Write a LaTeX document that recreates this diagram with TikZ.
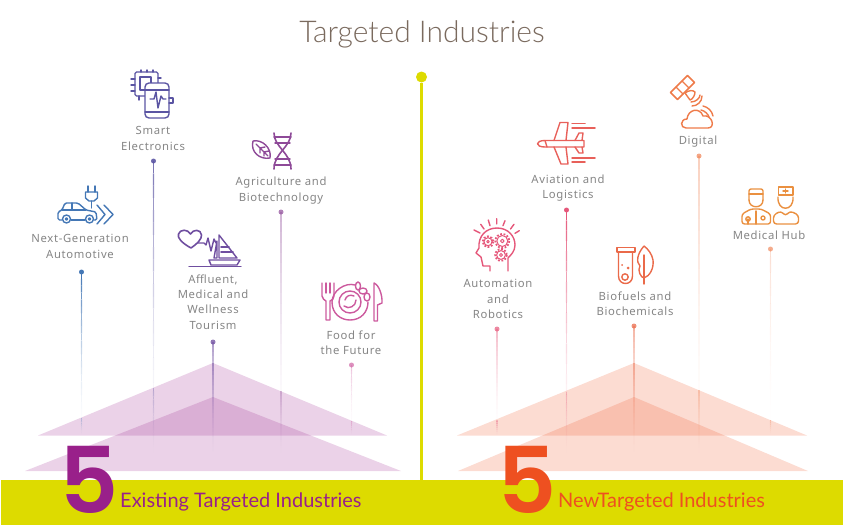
\documentclass[tikz,border=0pt]{standalone}
\usepackage{fontspec}
\setmainfont{Noto Sans}[LetterSpace=6]
\newfontfamily\headfont{Lato}
\newfontfamily\lightfont{Lato Light}
\newfontfamily\digitfont{Poppins SemiBold}
\usetikzlibrary{calc}
\definecolor{barcol}{HTML}{DDDB00}
\definecolor{purplecol}{HTML}{99208A}
\definecolor{orangecol}{HTML}{EE5020}
\definecolor{labelcol}{HTML}{858585}
\definecolor{titlecol}{HTML}{7A6A5E}
\definecolor{carcol}{HTML}{4477B5}
\definecolor{smartcol}{HTML}{5B55A3}
\definecolor{agricol}{HTML}{8E4A98}
\definecolor{tourcol}{HTML}{6F4EA0}
\definecolor{foodcol}{HTML}{CC5A9E}
\definecolor{autocol}{HTML}{E5577A}
\definecolor{avicol}{HTML}{E8605A}
\definecolor{biocol}{HTML}{EA6A4A}
\definecolor{digicol}{HTML}{EE7B4A}
\definecolor{medcol}{HTML}{EA9040}
\tikzset{
  label/.style={text=labelcol,font=\fontsize{11.3}{15.4}\selectfont,align=center,inner sep=0pt},
  tip/.style={circle,inner sep=0pt,minimum size=5pt},
  iconline/.style={line width=1.4pt,line join=round,line cap=round},
  gear/.style={line width=1.8pt,line cap=butt,dash pattern=on 1.8pt off 1.6pt},
}
\newcommand{\stemline}[4]{%
  \foreach \s in {0,...,23}
    \draw[#3,line width=1.1pt,opacity={#4*(1-\s/24)*(1-\s/24)}] ($(#1)!{\s/24}!(#2)$) -- ($(#1)!{(\s+1)/24}!(#2)$);
}
\begin{document}
\begin{tikzpicture}[x=1pt,y=-1pt]
  \useasboundingbox (0,0) rectangle (843,525);

  \node[text=titlecol,font=\lightfont\fontsize{30}{32}\selectfont] (title) at (422,34) {Targeted Industries};

  \fill[purplecol,opacity=.2] (213,363) -- (387,435.5) -- (38,435.5) -- cycle;
  \fill[purplecol,opacity=.2] (213,397) -- (401,471) -- (25,471) -- cycle;
  \fill[orangecol,opacity=.2] (634,363) -- (807,435.5) -- (457,435.5) -- cycle;
  \fill[orangecol,opacity=.2] (634,397) -- (808,471) -- (458,471) -- cycle;

  \foreach \nm/\x/\top/\edge/\bot/\col/\op in {
    car/81.5/272/418/436/carcol/1,
    smart/153.5/161/388/456/smartcol/.8,
    agri/281/212/391/456/agricol/.4,
    tour/213/342/363/456/tourcol/.55,
    food/351.5/365/421/436/foodcol/.35,
    auto/497/329/420/436/autocol/.4,
    avi/566.5/210/392/456/autocol/1,
    bio/634/326/363/456/biocol/.5,
    digi/699/156/390/456/digicol/.35,
    med/770.5/249/420/436/digicol/.25}{
    \node[tip,fill=\col,opacity=\op*.5+.5] (\nm top) at (\x,\top) {};
    \coordinate (\nm edge) at (\x,\edge);
    \coordinate (\nm end) at (\x,\bot);
    \stemline{\nm top}{\nm end}{\col}{\op}
    \stemline{\nm edge}{\nm end}{\col}{.3}
  }

  \fill[barcol] (1,480) rectangle (843,525);
  \node[circle,fill=barcol,inner sep=0pt,minimum size=11pt] (axis) at (421.5,77) {};
  \coordinate (axisend) at (421.5,480);
  \draw[barcol,line width=3pt] (axis) -- (axisend);

  \node[text=purplecol,font=\digitfont\fontsize{92}{92}\selectfont,inner sep=0pt] (fiveA) at (89,479.5) {5};
  \node[text=orangecol,font=\digitfont\fontsize{92}{92}\selectfont,inner sep=0pt] (fiveB) at (527.5,479.5) {5};
  \node[text=purplecol,font=\headfont\fontsize{20}{22}\selectfont,anchor=base west,inner sep=0pt] (existing) at (120,507) {Existing Targeted Industries};
  \node[text=orangecol,font=\headfont\fontsize{20}{22}\selectfont,anchor=base west,inner sep=0pt] (newind) at (558,507) {NewTargeted Industries};

  \node[label] (smart) at (153,138.5) {Smart\\Electronics};
  \node[label] (car) at (80,246.5) {Next-Generation\\Automotive};
  \node[label] (agri) at (281,190.5) {Agriculture and\\Biotechnology};
  \node[label] (tour) at (213,302) {Affluent,\\Medical and\\Wellness\\Tourism};
  \node[label] (food) at (351,342.5) {Food for\\the Future};
  \node[label] (auto) at (498,299) {Automation\\and\\Robotics};
  \node[label] (avi) at (568,188) {Aviation and\\Logistics};
  \node[label] (bio) at (635,304) {Biofuels and\\Biochemicals};
  \node[label] (digi) at (698,141.5) {Digital};
  \node[label] (med) at (769,235.5) {Medical Hub};

  % car and plug
  \begin{scope}[carcol,iconline]
    \draw (88,186) -- (88,192) (95,186) -- (95,192);
    \draw (85.5,192) -- (97.5,192) -- (97.5,198) -- (94,201) -- (89,201) -- (85.5,198) -- cycle;
    \draw (91.5,201) -- (91.5,208);
    \draw[rounded corners=1.5pt] (62,220) -- (58,220) -- (58,212) -- (62,210) -- (65,203) -- (78,203) -- (86,210) -- (96,212) -- (97,220) -- (94,220);
    \draw (71,220) -- (85,220) (62,210) -- (86,210) (72,203) -- (72,210);
    \draw (66.5,219) circle[radius=4] (66.5,219) circle[radius=1.2];
    \draw (89.5,219) circle[radius=4] (89.5,219) circle[radius=1.2];
    \draw[line width=1.4pt] (97,205) -- (105,214.5) -- (97,224) (104,205) -- (113,214.5) -- (104,224);
  \end{scope}

  % chip and watch
  \begin{scope}[smartcol,iconline]
    \draw[rounded corners=1.5pt] (135,72) rectangle (158,96);
    \draw (140,77) rectangle (151,90);
    \foreach \p in {79,85,91} \draw (131,\p) -- (135,\p);
    \foreach \p in {141,147,153} \draw (\p,70) -- (\p,72);
    \draw (158,78) -- (161,78) (139,96) -- (139,100);
    \draw[fill=white,rounded corners=4pt] (145,83) rectangle (169,118);
    \draw (145,90) -- (169,90) (145,112) -- (169,112);
    \draw (169,98) -- (173,98) -- (173,103) -- (169,103);
    \draw (150,99) -- (154,99) -- (156,92) -- (158,108) -- (161,96) -- (163,99) -- (166,99);
  \end{scope}

  % leaf and helix
  \begin{scope}[agricol,iconline]
    \draw (253,141) .. controls (262,139) and (272,148) .. (270,158) .. controls (260,160) and (250,152) .. (253,141);
    \draw (256,144) -- (268,156) (260,148) -- (260,153) (260,148) -- (265,147) (264,152) -- (264,156) (264,152) -- (269,151);
    \draw[line width=1.6pt] (274,133) .. controls (274,147) and (291,153) .. (291,169);
    \draw[line width=1.6pt] (291,133) .. controls (291,147) and (274,153) .. (274,169);
    \draw (274,137) -- (291,137) (275,143) -- (290,143) (275,159) -- (290,159) (274,165) -- (291,165);
  \end{scope}

  % heart and sailboat
  \begin{scope}[tourcol,iconline]
    \draw[line width=1.6pt] (191,248) .. controls (182,243) and (177,238) .. (178.5,234) .. controls (180,229) and (188,229) .. (190.5,234) .. controls (193,229) and (201,229) .. (201.5,235) .. controls (202,239) and (197,244) .. (191,248);
    \draw (198,243) -- (204,243) -- (206,245) -- (208,238) -- (211,251) -- (214,239) -- (216,243);
    \draw (219,235) -- (219,258) -- (237,258) -- cycle;
    \draw[line width=1.8pt] (221,247) -- (229,247) (221,252) -- (233,252);
    \draw (217,241) -- (214,258) -- (217,258) -- cycle;
    \draw (209,260) -- (240,260) -- (237,265) -- (211,265) -- cycle;
    \draw (189,266.5) -- (241,266.5);
  \end{scope}

  % fork, plate and knife
  \begin{scope}[foodcol,iconline]
    \draw (322,283) -- (322,296) .. controls (322,299) and (325,300) .. (326,301) -- (326,320) -- (330,320) -- (330,301) .. controls (332,300) and (334,299) .. (334,296) -- (334,283);
    \draw (326,283) -- (326,293) (330,283) -- (330,293);
    \draw (355,285) .. controls (345,282) and (332,291) .. (332,302) .. controls (332,314) and (341,320) .. (350,320) .. controls (361,320) and (368,312) .. (368,302);
    \draw (350,302) circle[radius=11];
    \draw (344,306) .. controls (349,310) and (356,306) .. (356,300);
    \draw (345,300) .. controls (346,296) and (350,294) .. (354,296);
    \draw (358,286) ellipse[x radius=2.5,y radius=4];
    \draw (363,291) ellipse[x radius=4,y radius=3];
    \draw (367,297) ellipse[x radius=3,y radius=4];
    \draw (374,283) -- (374,321) -- (377.5,321) -- (377.5,305) -- (382,303) .. controls (382.5,295) and (379,285) .. (374,283);
  \end{scope}

  % head and gears
  \begin{scope}[autocol,iconline]
    \draw (490,271) -- (490,266) -- (483,266) -- (481,257) -- (476,253) -- (479,248) .. controls (478,236) and (486,228) .. (497,228) .. controls (508,228) and (515,236) .. (515,245) .. controls (515,251) and (511,255) .. (508,258) -- (508,271);
    \draw (496.7,218.7) -- (496.7,224) (488.3,220) -- (490,225.7) (505,220.7) -- (503,225.7)
          (480.7,224.3) -- (484,229) (514,224.3) -- (510.5,229) (474,230) -- (480,233) (519.3,230.7) -- (515,233.3);
    \draw[gear] (488,241.7) circle[radius=5.4];
    \draw[gear] (502.3,241) circle[radius=7];
    \draw[gear] (501,255) circle[radius=5.8];
    \draw[line width=1pt] (488,241.7) circle[radius=4] (502.3,241) circle[radius=5.5] (501,255) circle[radius=4.4];
    \draw[line width=1pt] (488,241.7) circle[radius=1.3] (502.3,241) circle[radius=1.8] (501,255) circle[radius=1.5];
  \end{scope}

  % plane
  \begin{scope}[avicol,iconline]
    \draw (584,140.5) -- (545,140.5) .. controls (535,140.5) and (535,147) .. (545,147) -- (584,147) -- cycle;
    \draw (545,140.5) -- (547,147);
    \draw (554,140.5) -- (560,122.5) -- (568,122.5) -- (566,140.5);
    \draw (554,147) -- (561,164) -- (568,164) -- (566,147);
    \draw (575,140.5) -- (579,133) -- (583,133) -- (582,140.5);
    \draw (575,147) -- (579,153) -- (583,153) -- (582,147);
    \draw[line width=1.5pt] (572,123.5) -- (585,123.5) (572,128) -- (595,128) (572,158) -- (595,158) (572,162) -- (585,162);
  \end{scope}

  % tube and feather
  \begin{scope}[biocol,iconline]
    \draw (617,247.5) rectangle (635,252);
    \draw (618.5,252) -- (618.5,276) .. controls (618.5,286) and (632.5,286) .. (632.5,276) -- (632.5,252);
    \draw (625,277) circle[radius=3.2];
    \fill (622,265) circle[radius=1] (628,268) circle[radius=1.5];
    \draw (644,246) .. controls (637,254) and (636,262) .. (640,266) .. controls (637,270) and (641,278) .. (644,278) .. controls (650,276) and (654,268) .. (653,260) .. controls (652,254) and (648,249) .. (644,246);
    \draw (644,255) -- (644,284);
  \end{scope}

  % satellite and cloud
  \begin{scope}[digicol,iconline]
    \draw[line width=1.5pt] (670.5,92.5) -- (677.5,99.5) -- (694.5,82.5) -- (687.5,75.5) -- cycle;
    \draw (676,87) -- (683,94) (682,81) -- (689,88);
    \draw (685,93) .. controls (689,90) and (693,90) .. (695,92) .. controls (695,95) and (693,99) .. (690,100) -- cycle;
    \draw (691,102) .. controls (696,102) and (700,98) .. (700,95);
    \draw (692,106) .. controls (697,106) and (702,102) .. (702,96);
    \draw (686,128) .. controls (680,128) and (680,119) .. (687,119) .. controls (688,109) and (700,107) .. (703,116) .. controls (712,114) and (716,128) .. (708,128) -- cycle;
    \draw (703,106) .. controls (708,107) and (712,111) .. (713,116);
    \draw (701,110) .. controls (705,111) and (708,114) .. (709,117);
  \end{scope}

  % doctor and nurse
  \begin{scope}[medcol,iconline]
    \draw[rounded corners=2pt] (749,200) -- (749,189) -- (763,189) -- (763,200);
    \draw (749,194) -- (763,194);
    \draw (749,200) .. controls (749,209) and (763,209) .. (763,200);
    \draw[rounded corners=2.5pt] (742,224) -- (742,214) -- (751,209) -- (761,209) -- (770.5,214) -- (770.5,224) -- cycle;
    \draw (756,211) -- (756,224) (748,224) -- (748,219);
    \draw (748,219) circle[radius=2.2] (763,218) circle[radius=2];
    \draw (778.5,195) -- (778.5,187) -- (793,187) -- (793,195) -- cycle;
    \draw (783,191) -- (788,191) (785.5,189) -- (785.5,193);
    \draw (778,197) .. controls (777,212) and (794,212) .. (793,197);
    \draw[rounded corners=3pt] (773.5,224) -- (773.5,215) -- (781,211) -- (785.5,216) -- (790,211) -- (798.5,215) -- (798.5,224) -- cycle;
  \end{scope}
\end{tikzpicture}
\end{document}
